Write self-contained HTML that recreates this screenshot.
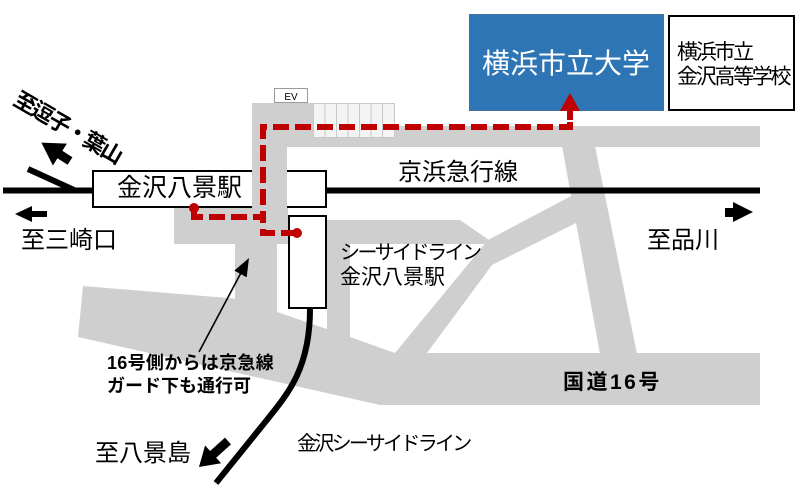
<!DOCTYPE html>
<html><head><meta charset="utf-8"><style>
html,body{margin:0;padding:0;background:#fff;}
svg{display:block;}
text{font-family:"Liberation Sans","Noto Sans CJK JP",sans-serif;fill:#000;}
</style></head><body>
<svg width="800" height="500" viewBox="0 0 800 500" xmlns="http://www.w3.org/2000/svg">
<rect width="800" height="500" fill="#fff"/>
<!-- gray roads -->
<g fill="#cfcfcf">
 <rect x="287" y="126" width="473" height="21"/>
 <rect x="252" y="103" width="61" height="44"/>
 <rect x="174" y="208" width="114" height="36"/>
 <rect x="235" y="243" width="42" height="72"/>
 <polygon points="83,286 240,299 277,312 350,337 395,353 760,353 760,405 380,405 78,337"/>
 <polygon points="562,146 595,146 637,354 600,354"/>
 <rect x="327" y="220" width="23" height="118"/>
 <polygon points="327,220 460,220 489,240 486,244 327,244"/>
 <polygon points="395,353 488,240 573,195 578,222 492,265 427,353"/>
</g>
<!-- stairs -->
<rect x="313.5" y="103.5" width="81" height="34" fill="#f4f4f4" stroke="#c9c9c9" stroke-width="1"/>
<g stroke="#c9c9c9" stroke-width="1">
 <line x1="325" y1="103" x2="325" y2="137"/>
 <line x1="336.5" y1="103" x2="336.5" y2="137"/>
 <line x1="348" y1="103" x2="348" y2="137"/>
 <line x1="359.5" y1="103" x2="359.5" y2="137"/>
 <line x1="371" y1="103" x2="371" y2="137"/>
 <line x1="382.5" y1="103" x2="382.5" y2="137"/>
</g>
<!-- EV -->
<rect x="274.5" y="88.5" width="33" height="14" fill="#fff" stroke="#9a9a9a" stroke-width="1"/>
<text x="291" y="100" font-size="10" text-anchor="middle">EV</text>
<!-- Keikyu line -->
<line x1="3" y1="190.5" x2="760" y2="190.5" stroke="#000" stroke-width="6"/>
<line x1="28" y1="169" x2="74" y2="190" stroke="#000" stroke-width="6"/>
<!-- station box -->
<rect x="93" y="171" width="233" height="36" fill="#fff" stroke="#000" stroke-width="2"/>
<rect x="252" y="103" width="35" height="141" fill="#cfcfcf"/>
<!-- seaside line -->
<path d="M310,309 C310,372 285,397 262,426 L216,483" fill="none" stroke="#000" stroke-width="6"/>
<rect x="289" y="216" width="37" height="92" fill="#fff" stroke="#000" stroke-width="2"/>
<!-- boxes top -->
<rect x="469.5" y="14.5" width="194" height="96" fill="#2e75b6" stroke="#41719c" stroke-width="1"/>
<rect x="669" y="16" width="125" height="94" fill="#fff" stroke="#000" stroke-width="2"/>
<text x="482" y="73" font-size="28" style="fill:#fff">横浜市立大学</text>
<text x="677" y="59" font-size="21" letter-spacing="-2.3">横浜市立</text>
<text x="677" y="83.5" font-size="21" letter-spacing="-2.3">金沢高等学校</text>
<!-- red route -->
<g fill="none" stroke="#c00000" stroke-width="6" stroke-dasharray="16,6">
 <path d="M194,210 L194,217 L263,217 L263,127 L570,127 L570,110"/>
 <path d="M297,233 L263,233 L263,217"/>
</g>
<line x1="570" y1="108" x2="570" y2="120" stroke="#c00000" stroke-width="6"/>
<polygon points="560,111 570,93 580,111" fill="#c00000"/>
<circle cx="194" cy="208" r="5" fill="#c00000"/>
<circle cx="297" cy="233" r="5" fill="#c00000"/>
<!-- labels -->
<text x="117" y="196" font-size="25">金沢八景駅</text>
<text x="21" y="248" font-size="24">至三崎口</text>
<text x="398" y="180" font-size="24">京浜急行線</text>
<text x="647" y="248" font-size="24">至品川</text>
<text x="563" y="389" font-size="21" font-weight="bold" letter-spacing="2.5">国道16号</text>
<text x="340" y="259" font-size="20" letter-spacing="-2.5">シーサイドライン</text>
<text x="340" y="284" font-size="21">金沢八景駅</text>
<text x="107" y="369" font-size="18" font-weight="bold" letter-spacing="0.3">16号側からは京急線</text>
<text x="107" y="392" font-size="18" font-weight="bold">ガード下も通行可</text>
<text x="95" y="461" font-size="24">至八景島</text>
<text x="297" y="450" font-size="20" letter-spacing="-2.7">金沢シーサイドライン</text>
<text x="12" y="104" font-size="22" font-weight="bold" letter-spacing="-2" transform="rotate(30 12 104)">至逗子・葉山</text>
<!-- annotation arrow -->
<line x1="199" y1="352" x2="243" y2="269" stroke="#000" stroke-width="1.6"/>
<polygon points="249,258 246.7,277.2 234.3,270.6" fill="#000"/>
<!-- block arrows -->
<polygon points="0,-4.5 12,-4.5 12,-13 34,0 12,13 12,4.5 0,4.5" fill="#000" transform="translate(70,161) rotate(212.7)"/>
<polygon points="47,211 32,211 32,206 15,214 32,222 32,217 47,217" fill="#000"/>
<polygon points="725,208 733,208 733,202 753,212 733,222 733,217 725,217" fill="#000"/>
<polygon points="0,-4.5 20,-4.5 20,-12 39,0 20,12 20,4.5 0,4.5" fill="#000" transform="translate(228,441) rotate(138.1)"/>
</svg>
</body></html>
